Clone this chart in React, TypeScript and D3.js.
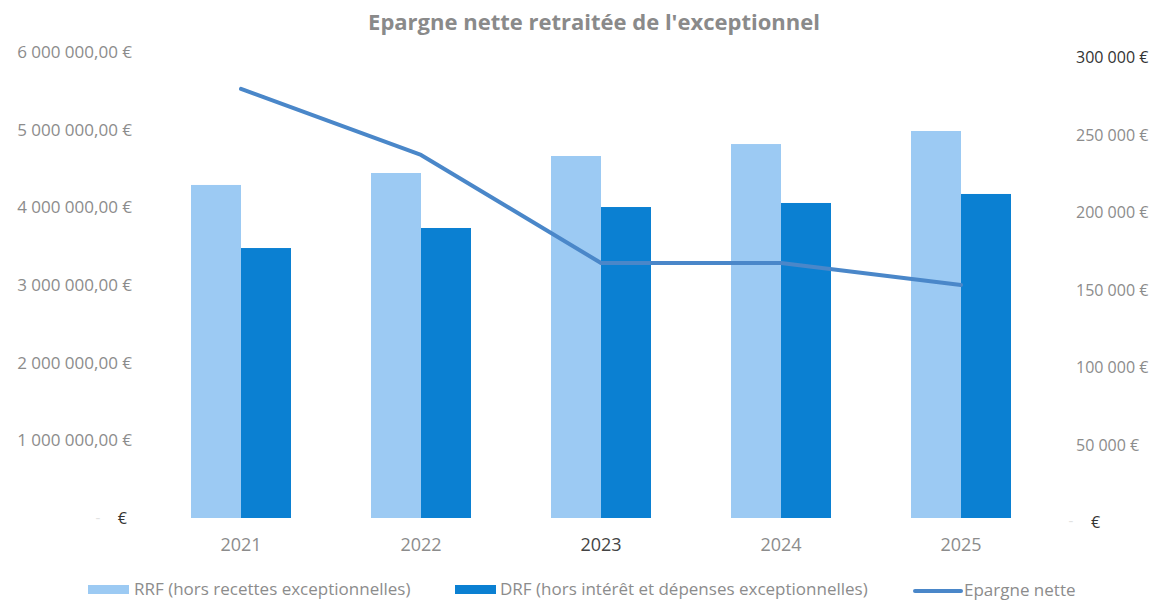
import React from "react";
import * as d3 from "d3";

const years = ["2021", "2022", "2023", "2024", "2025"];
const rrf = [4288000, 4442000, 4661000, 4815000, 4983000];
const drf = [3476000, 3734000, 4004000, 4056000, 4172000];
const epargne = [279400, 236800, 167100, 167100, 152900];
const leftTicks = [0, 1000000, 2000000, 3000000, 4000000, 5000000, 6000000];
const rightTicks = [0, 50000, 100000, 150000, 200000, 250000, 300000];
const seriesNames = [
  "RRF (hors recettes exceptionnelles)",
  "DRF (hors intérêt et dépenses exceptionnelles)",
  "Epargne nette",
];
const title = "Epargne nette retraitée de l'exceptionnel";

const W = 1162;
const H = 602;
const FONT = "'Open Sans', Lato, sans-serif";
const C_RRF = "#9ccaf3";
const C_DRF = "#0b80d2";
const C_LINE = "#4a87c9";
const C_TEXT = "#8c8c8c";

const fmtLeft = (v: number) =>
  v === 0 ? "" : d3.format(",.2f")(v).replace(/,/g, " ").replace(".", ",") + " €";
const fmtRight = (v: number) => (v === 0 ? "" : d3.format(",")(v).replace(/,/g, " ") + " €");

export default function App() {
  const x = d3.scaleBand<string>().domain(years).range([151, 1051]).paddingInner(0).paddingOuter(0);
  const yL = d3.scaleLinear().domain([0, 6000000]).range([518, 52]);
  const yR = d3.scaleLinear().domain([0, 300000]).range([522, 57]);
  const bw = 50;
  const line = d3
    .line<number>()
    .x((_, i) => (x(years[i]) as number) + x.bandwidth() / 2)
    .y((d) => yR(d));

  return (
    <svg width={W} height={H} style={{ position: "absolute", left: 0, top: 0, background: "#fff" }}>
      <rect width={W} height={H} fill="#fff" />
      <text x={594} y={30} textAnchor="middle" fontFamily={FONT} fontWeight="bold" fontSize={22} fill="#8a8a8a">
        {title}
      </text>
      {leftTicks.map((t) =>
        t === 0 ? (
          <g key={t}>
            <text x={98} y={yL(t) + 5} textAnchor="middle" fontFamily={FONT} fontSize={15} fill="#e2e2e2">-</text>
            <text x={127} y={yL(t) + 6} textAnchor="end" fontFamily={FONT} fontSize={16} fill="#333">€</text>
          </g>
        ) : (
          <text key={t} x={132} y={yL(t) + 6} textAnchor="end" fontFamily={FONT} fontSize={17} fill={C_TEXT}>
            {fmtLeft(t)}
          </text>
        )
      )}
      {rightTicks.map((t) =>
        t === 0 ? (
          <g key={t}>
            <text x={1071} y={yR(t) + 4} textAnchor="middle" fontFamily={FONT} fontSize={15} fill="#e2e2e2">-</text>
            <text x={1091} y={yR(t) + 6} textAnchor="start" fontFamily={FONT} fontSize={16} fill="#333">€</text>
          </g>
        ) : (
          <text key={t} x={1076} y={yR(t) + 6} textAnchor="start" fontFamily={FONT} fontSize={16}
            fill={t === 300000 ? "#333" : C_TEXT}>
            {fmtRight(t)}
          </text>
        )
      )}
      {years.map((yr, i) => {
        const cx = (x(yr) as number) + x.bandwidth() / 2;
        return (
          <g key={yr}>
            <rect x={cx - bw} y={yL(rrf[i])} width={bw} height={yL(0) - yL(rrf[i])} fill={C_RRF} />
            <rect x={cx} y={yL(drf[i])} width={bw} height={yL(0) - yL(drf[i])} fill={C_DRF} />
            <text x={cx} y={551} textAnchor="middle" fontFamily={FONT} fontSize={18}
              fill={yr === "2023" ? "#444" : C_TEXT}>
              {yr}
            </text>
          </g>
        );
      })}
      <path d={line(epargne) || ""} fill="none" stroke={C_LINE} strokeWidth={4} strokeLinejoin="round" strokeLinecap="round" />
      <g fontFamily={FONT} fontSize={17} fill={C_TEXT}>
        <rect x={88} y={585} width={41} height={9} fill={C_RRF} />
        <text x={134} y={595}>{seriesNames[0]}</text>
        <rect x={455} y={585} width={41} height={9} fill={C_DRF} />
        <text x={500} y={595}>{seriesNames[1]}</text>
        <line x1={915} y1={591} x2={961} y2={591} stroke={C_LINE} strokeWidth={4} strokeLinecap="round" />
        <text x={964} y={596}>{seriesNames[2]}</text>
      </g>
    </svg>
  );
}
